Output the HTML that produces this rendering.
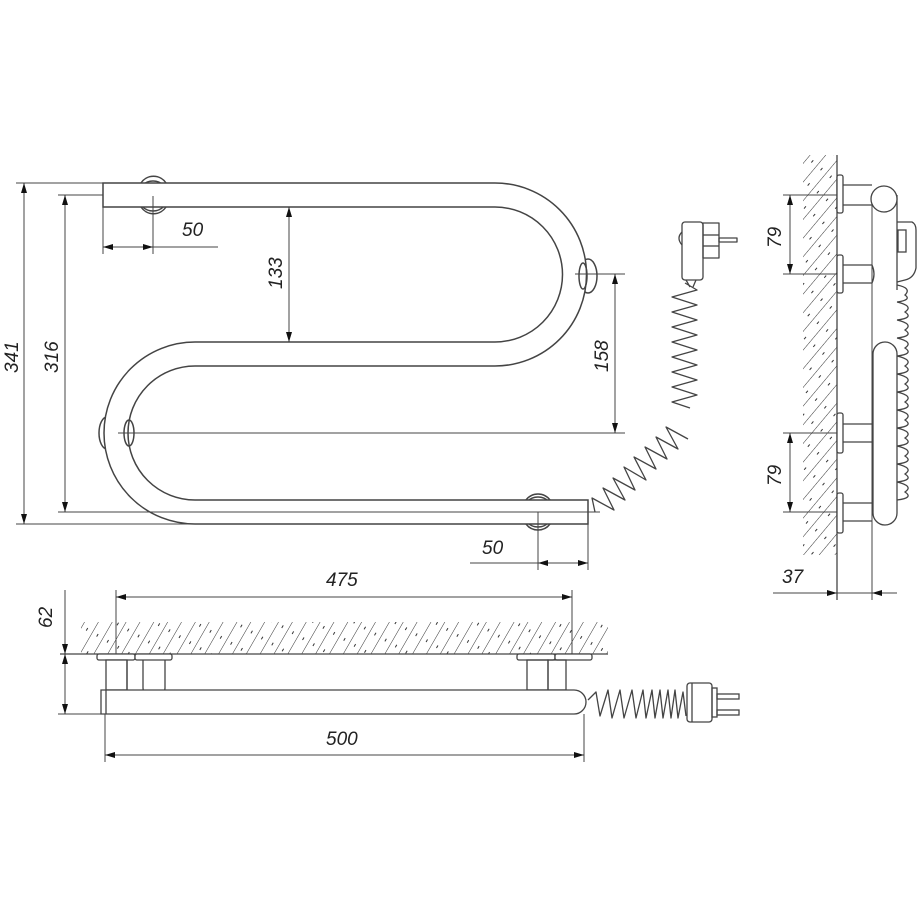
<!DOCTYPE html>
<html><head><meta charset="utf-8"><style>
html,body{margin:0;padding:0;background:#fff;}
svg{display:block}
text{font-family:"Liberation Sans",sans-serif;font-style:italic;font-size:19px;fill:#222;}
</style></head><body>
<svg width="918" height="919" viewBox="0 0 918 919" xmlns="http://www.w3.org/2000/svg">
<defs>
<pattern id="h" width="12" height="40" patternUnits="userSpaceOnUse" patternTransform="rotate(30)">
<line x1="0" y1="0" x2="0" y2="40" stroke="#333" stroke-width="1"/>
<line x1="6" y1="0" x2="6" y2="40" stroke="#333" stroke-width="1" stroke-dasharray="3 17"/>
</pattern>
<pattern id="hv" width="12" height="40" patternUnits="userSpaceOnUse" patternTransform="rotate(40)">
<line x1="0" y1="0" x2="0" y2="40" stroke="#333" stroke-width="1"/>
<line x1="6" y1="0" x2="6" y2="40" stroke="#333" stroke-width="1" stroke-dasharray="3 17"/>
</pattern>
<marker id="a" viewBox="0 0 10 6" refX="10" refY="3" markerWidth="10" markerHeight="6" orient="auto-start-reverse" markerUnits="userSpaceOnUse">
<path d="M0,0 L10,3 L0,6 Z" fill="#111"/>
</marker>
</defs>
<g fill="none" stroke="#444" stroke-width="1.5">
<circle cx="153" cy="196" r="15" fill="#fff"/>
<ellipse cx="588" cy="276" rx="9" ry="17" fill="#fff"/>
<ellipse cx="107" cy="433" rx="8" ry="16" fill="#fff"/>
<circle cx="538" cy="512" r="15" fill="#fff"/>
<path d="M103,183 L495,183 A91.5,91.5 0 0 1 495,366 L195,366 A67,67 0 0 0 195,500 L588,500 L588,524 L195,524 A91,91 0 0 1 195,342 L495,342 A67.5,67.5 0 0 0 495,207 L103,207 Z" fill="#fff"/>
<ellipse cx="583" cy="276" rx="4" ry="13"/>
<ellipse cx="129" cy="433" rx="5" ry="13"/>
<path d="M141,183 A15,15 0 0 1 166,183 M141,207 A15,15 0 0 0 166,207"/>
<path d="M526,500 A15,15 0 0 1 550,500 M526,524 A15,15 0 0 0 550,524"/>
</g>
<g fill="none" stroke="#444" stroke-width="1">
<line x1="16" y1="183" x2="103" y2="183"/>
<line x1="16" y1="524" x2="200" y2="524"/>
<line x1="24" y1="183" x2="24" y2="524" marker-start="url(#a)" marker-end="url(#a)"/>
<line x1="58" y1="195" x2="103" y2="195"/>
<line x1="58" y1="512" x2="600" y2="512"/>
<line x1="65" y1="195" x2="65" y2="512" marker-start="url(#a)" marker-end="url(#a)"/>
<line x1="289" y1="207" x2="289" y2="342" marker-start="url(#a)" marker-end="url(#a)"/>
<line x1="575" y1="274" x2="625" y2="274"/>
<line x1="118" y1="433" x2="625" y2="433"/>
<line x1="615" y1="274" x2="615" y2="433" marker-start="url(#a)" marker-end="url(#a)"/>
<line x1="103" y1="207" x2="103" y2="254"/>
<line x1="153" y1="196" x2="153" y2="254"/>
<line x1="103" y1="247" x2="218" y2="247"/>
<line x1="103" y1="247" x2="153" y2="247" marker-start="url(#a)" marker-end="url(#a)"/>
<line x1="538" y1="512" x2="538" y2="570"/>
<line x1="588" y1="524" x2="588" y2="570"/>
<line x1="470" y1="563" x2="588" y2="563"/>
<line x1="538" y1="563" x2="588" y2="563" marker-start="url(#a)" marker-end="url(#a)"/>
</g>
<text x="0" y="0" transform="translate(18,373) rotate(-90)">341</text>
<text x="0" y="0" transform="translate(58,373) rotate(-90)">316</text>
<text x="0" y="0" transform="translate(282,289) rotate(-90)">133</text>
<text x="0" y="0" transform="translate(608,372) rotate(-90)">158</text>
<text x="182" y="236">50</text>
<text x="482" y="554">50</text>
<g fill="none" stroke="#444" stroke-width="1.3" stroke-linejoin="round">
<polyline points="685,283 697,290 672,297 697,305 672,312 697,320 672,327 697,335 672,342 697,350 672,357 697,365 672,372 697,380 672,387 697,395 672,402 690,408"/>
<polyline points="688,439 666,427 678,449 656,437 667,459 645,447 656,469 634,457 646,480 624,467 635,490 613,478 625,500 603,488 614,510 592,498 595,512"/>
<rect x="682" y="222" width="21" height="58" rx="3" fill="#fff"/>
<path d="M682,232 Q676,238 682,245"/>
<rect x="703" y="223" width="16" height="35"/>
<line x1="703" y1="235" x2="719" y2="235"/><line x1="703" y1="246" x2="719" y2="246"/>
<rect x="719" y="238" width="18" height="4"/>
<path d="M686,280 L690,287 M696,280 L693,287"/>
</g>
<rect x="81" y="622" width="527" height="32" fill="url(#h)"/>
<g fill="none" stroke="#444" stroke-width="1.3">
<line x1="60" y1="654" x2="608" y2="654"/>
<rect x="97" y="654" width="38" height="6" rx="2" fill="#fff"/>
<rect x="135" y="654" width="37" height="6" rx="2" fill="#fff"/>
<rect x="106" y="660" width="21" height="30" fill="#fff"/>
<path d="M127,660 L127,690 M143,660 L143,688 Q143,693 148,693 L160,693 Q165,693 165,688 L165,660"/>
<rect x="517" y="654" width="38" height="6" rx="2" fill="#fff"/>
<rect x="555" y="654" width="37" height="6" rx="2" fill="#fff"/>
<rect x="527" y="660" width="21" height="30"/>
<rect x="548" y="660" width="18" height="30"/>
<path d="M101,690 L574,690 A12,12 0 0 1 574,714 L101,714 Z" fill="#fff"/>
<line x1="106" y1="690" x2="106" y2="714"/>
<polyline points="588,700 596,692 600,716 608,690 612,718 620,690 624,718 632,690 636,718 643,690 646,718 652,690 655,718 660,690 663,718 668,690 671,718 675,690 678,718 683,692 686,716" stroke-linejoin="round"/>
<rect x="687" y="683" width="25" height="39" rx="3" fill="#fff"/>
<line x1="692" y1="683" x2="692" y2="722"/>
<rect x="712" y="688" width="5" height="29"/>
<rect x="717" y="694" width="22" height="5"/><rect x="717" y="710" width="22" height="5"/>
</g>
<g fill="none" stroke="#444" stroke-width="1">
<line x1="116" y1="590" x2="116" y2="654"/>
<line x1="572" y1="590" x2="572" y2="654"/>
<line x1="116" y1="597" x2="572" y2="597" marker-start="url(#a)" marker-end="url(#a)"/>
<line x1="58" y1="714" x2="101" y2="714"/>
<line x1="65" y1="590" x2="65" y2="654" marker-end="url(#a)"/>
<line x1="65" y1="654" x2="65" y2="714" marker-start="url(#a)" marker-end="url(#a)"/>
<line x1="105" y1="714" x2="105" y2="762"/>
<line x1="584" y1="714" x2="584" y2="762"/>
<line x1="105" y1="755" x2="584" y2="755" marker-start="url(#a)" marker-end="url(#a)"/>
</g>
<text x="326" y="586">475</text>
<text x="326" y="745">500</text>
<text x="0" y="0" transform="translate(52,628) rotate(-90)">62</text>
<rect x="803" y="155" width="34" height="400" fill="url(#hv)"/>
<g fill="none" stroke="#444" stroke-width="1.3">
<line x1="837" y1="155" x2="837" y2="600"/>
<line x1="872" y1="195" x2="872" y2="600" stroke-width="1"/>
<path d="M897,195 L897,290"/>
<rect x="873" y="342" width="24" height="183" rx="12" fill="#fff"/>
<path d="M842,185 L872,185 M842,205 L872,205"/>
<path d="M842,265 L872,265 Q876,274 872,283 L842,283"/>
<path d="M842,424 L872,424 M842,442 L872,442"/>
<path d="M842,503 L872,503 M842,521 L872,521"/>
<rect x="837" y="175" width="6" height="38" rx="2" fill="#fff"/>
<rect x="837" y="255" width="6" height="38" rx="2" fill="#fff"/>
<rect x="837" y="413" width="6" height="40" rx="2" fill="#fff"/>
<rect x="837" y="493" width="6" height="40" rx="2" fill="#fff"/>
<circle cx="884" cy="199" r="13" fill="#fff"/>
<path d="M897,222 L912,222 Q916,224 916,230 L916,268 Q914,278 905,280 L897,282"/>
<rect x="898" y="230" width="8" height="22"/>
<path d="M897,285 Q912,288 905,295 Q912,300 897,302 M897,302 Q914,306 905,312 Q914,318 897,320 M897,320 Q914,324 905,330 Q914,336 897,338 M897,338 Q914,342 905,348 Q914,354 897,356 M897,356 Q914,360 905,366 Q914,372 897,374 M897,374 Q914,378 905,384 Q914,390 897,392 M897,392 Q914,396 905,402 Q914,408 897,410 M897,410 Q914,414 905,420 Q914,426 897,428 M897,428 Q914,432 905,438 Q914,444 897,446 M897,446 Q914,450 905,456 Q914,462 897,464 M897,464 Q914,468 905,474 Q914,480 897,482 M897,482 Q914,486 905,492 Q914,498 897,500"/>
</g>
<g fill="none" stroke="#444" stroke-width="1">
<line x1="783" y1="195" x2="837" y2="195"/>
<line x1="783" y1="274" x2="837" y2="274"/>
<line x1="790" y1="195" x2="790" y2="274" marker-start="url(#a)" marker-end="url(#a)"/>
<line x1="783" y1="433" x2="837" y2="433"/>
<line x1="783" y1="512" x2="837" y2="512"/>
<line x1="790" y1="433" x2="790" y2="512" marker-start="url(#a)" marker-end="url(#a)"/>
<line x1="773" y1="593" x2="837" y2="593" marker-end="url(#a)"/>
<line x1="897" y1="593" x2="872" y2="593" marker-end="url(#a)"/>
<line x1="837" y1="593" x2="872" y2="593"/>
</g>
<text x="0" y="0" transform="translate(781,248) rotate(-90)">79</text>
<text x="0" y="0" transform="translate(781,486) rotate(-90)">79</text>
<text x="782" y="583">37</text>
</svg>
</body></html>
